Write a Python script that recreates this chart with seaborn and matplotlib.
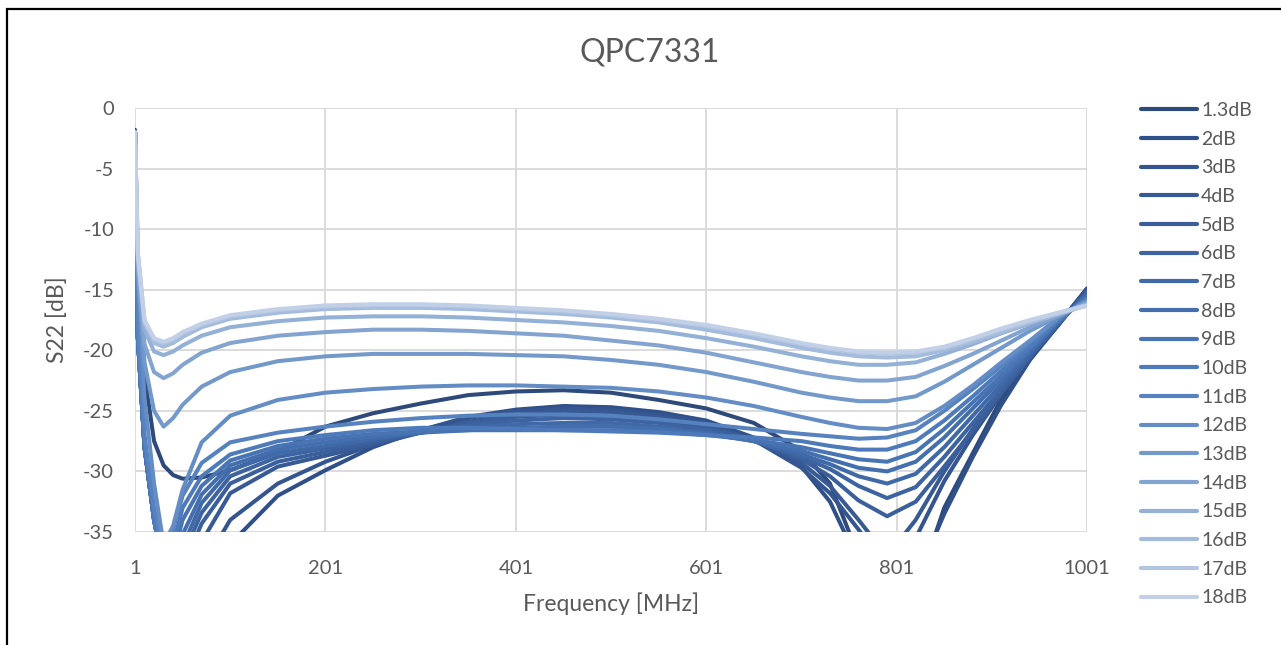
import matplotlib
matplotlib.use("Agg")
import matplotlib.pyplot as plt
import seaborn as sns
import pandas as pd
from matplotlib.patches import Rectangle

# ---------------- data ----------------
freq = [1, 4, 11, 21, 31, 41, 51, 71, 101, 151, 201, 251, 301, 351, 401, 451, 501,
        551, 601, 651, 701, 731, 761, 791, 821, 851, 881, 911, 941, 971, 1001]

labels = ["1.3dB", "2dB", "3dB", "4dB", "5dB", "6dB", "7dB", "8dB", "9dB", "10dB",
          "11dB", "12dB", "13dB", "14dB", "15dB", "16dB", "17dB", "18dB"]

s_1_3dB = [-1.8, -14.0, -22.0, -27.5, -29.5, -30.3, -30.6, -30.5, -29.9, -28.4, -26.3, -25.2, -24.4, -23.7, -23.4, -23.3, -23.5, -24.1, -24.8, -26.0, -28.3, -31.0, -37.0, -42.0, -40.0, -33.0, -28.5, -24.0, -20.5, -17.8, -14.9]
s_2dB = [-2.0, -19.0, -28.0, -34.0, -38.0, -40.0, -40.0, -39.0, -36.0, -32.0, -29.9, -28.0, -26.6, -25.5, -24.9, -24.6, -24.7, -25.1, -25.8, -27.2, -29.6, -32.5, -37.5, -41.0, -39.0, -33.5, -28.8, -24.5, -20.8, -17.9, -14.9]
s_3dB = [-2.0, -19.0, -28.0, -34.0, -38.0, -40.0, -40.0, -38.0, -34.0, -31.0, -29.2, -27.8, -26.6, -25.6, -25.0, -24.8, -24.9, -25.3, -26.0, -27.4, -29.7, -31.8, -34.8, -38.0, -35.5, -30.8, -27.0, -23.6, -20.5, -17.9, -15.0]
s_4dB = [-2.0, -19.0, -28.0, -34.0, -38.0, -40.0, -40.0, -35.8, -31.8, -29.6, -28.7, -27.8, -26.8, -25.9, -25.3, -25.0, -25.1, -25.5, -26.2, -27.4, -29.3, -31.2, -34.0, -37.0, -34.0, -30.0, -26.5, -23.2, -20.3, -17.8, -15.1]
s_5dB = [-2.0, -19.0, -28.0, -34.0, -38.0, -40.0, -38.0, -34.3, -31.0, -29.2, -28.4, -27.6, -26.8, -26.0, -25.5, -25.3, -25.4, -25.8, -26.4, -27.4, -29.0, -30.4, -32.4, -33.7, -32.5, -29.6, -26.6, -23.5, -20.6, -17.8, -15.2]
s_6dB = [-2.0, -19.0, -28.0, -34.0, -38.0, -40.0, -37.0, -33.4, -30.4, -28.8, -28.1, -27.4, -26.8, -26.2, -25.8, -25.6, -25.7, -26.0, -26.6, -27.5, -28.8, -29.8, -31.2, -32.2, -31.3, -28.8, -26.0, -23.2, -20.4, -17.7, -15.3]
s_7dB = [-2.0, -19.0, -28.0, -34.0, -38.0, -39.0, -36.2, -32.6, -29.9, -28.5, -27.9, -27.3, -26.8, -26.4, -26.1, -26.0, -26.0, -26.3, -26.8, -27.5, -28.6, -29.4, -30.4, -31.0, -30.2, -28.0, -25.4, -22.8, -20.2, -17.7, -15.4]
s_8dB = [-2.0, -19.0, -28.0, -34.0, -38.0, -38.0, -35.2, -31.9, -29.5, -28.2, -27.6, -27.1, -26.8, -26.6, -26.4, -26.3, -26.3, -26.5, -26.9, -27.5, -28.3, -29.0, -29.7, -30.0, -29.2, -27.2, -24.8, -22.4, -20.0, -17.6, -15.5]
s_9dB = [-2.0, -19.0, -28.0, -34.0, -38.0, -37.0, -34.0, -31.2, -29.1, -27.9, -27.3, -26.9, -26.7, -26.6, -26.6, -26.6, -26.6, -26.7, -27.0, -27.4, -28.0, -28.5, -29.0, -29.2, -28.4, -26.5, -24.3, -22.1, -19.9, -17.6, -15.6]
s_10dB = [-2.0, -19.0, -27.5, -34.0, -38.0, -36.0, -33.0, -30.4, -28.6, -27.5, -27.0, -26.6, -26.4, -26.4, -26.5, -26.6, -26.7, -26.8, -27.0, -27.2, -27.5, -27.9, -28.2, -28.2, -27.5, -25.8, -23.8, -21.7, -19.7, -17.5, -15.7]
s_11dB = [-2.0, -18.0, -27.0, -33.0, -37.0, -34.8, -32.0, -29.3, -27.6, -26.8, -26.3, -25.9, -25.6, -25.4, -25.3, -25.3, -25.4, -25.7, -26.1, -26.5, -26.9, -27.1, -27.3, -27.2, -26.6, -25.0, -23.2, -21.3, -19.4, -17.4, -15.8]
s_12dB = [-2.0, -14.0, -24.0, -31.0, -36.0, -34.5, -31.5, -27.6, -25.4, -24.1, -23.5, -23.2, -23.0, -22.9, -22.9, -23.0, -23.1, -23.4, -23.9, -24.6, -25.5, -26.0, -26.4, -26.5, -26.0, -24.6, -22.9, -21.0, -19.2, -17.3, -15.9]
s_13dB = [-2.0, -13.5, -21.0, -25.0, -26.3, -25.6, -24.5, -23.0, -21.8, -20.9, -20.5, -20.3, -20.3, -20.3, -20.4, -20.5, -20.8, -21.2, -21.8, -22.6, -23.5, -23.9, -24.2, -24.2, -23.8, -22.6, -21.2, -19.8, -18.4, -17.2, -16.0]
s_14dB = [-2.0, -13.0, -19.5, -21.8, -22.3, -21.9, -21.2, -20.2, -19.4, -18.8, -18.5, -18.3, -18.3, -18.4, -18.6, -18.8, -19.2, -19.6, -20.2, -21.0, -21.8, -22.2, -22.5, -22.5, -22.2, -21.3, -20.3, -19.2, -18.1, -17.1, -16.1]
s_15dB = [-2.0, -12.5, -18.3, -20.1, -20.4, -20.1, -19.6, -18.8, -18.1, -17.6, -17.3, -17.2, -17.2, -17.3, -17.5, -17.7, -18.0, -18.4, -19.0, -19.7, -20.5, -20.9, -21.2, -21.2, -21.0, -20.3, -19.5, -18.6, -17.8, -17.0, -16.2]
s_16dB = [-2.0, -12.2, -17.8, -19.4, -19.7, -19.4, -18.9, -18.1, -17.4, -16.9, -16.6, -16.5, -16.5, -16.6, -16.8, -17.0, -17.3, -17.7, -18.3, -19.0, -19.8, -20.2, -20.5, -20.6, -20.5, -20.0, -19.3, -18.5, -17.7, -17.0, -16.3]
s_17dB = [-2.0, -12.0, -17.6, -19.1, -19.4, -19.1, -18.6, -17.9, -17.2, -16.7, -16.4, -16.3, -16.3, -16.4, -16.6, -16.8, -17.1, -17.5, -18.0, -18.7, -19.5, -19.9, -20.2, -20.3, -20.2, -19.8, -19.1, -18.3, -17.6, -16.9, -16.3]
s_18dB = [-2.0, -12.0, -17.5, -19.0, -19.3, -19.0, -18.5, -17.8, -17.1, -16.6, -16.3, -16.2, -16.2, -16.3, -16.5, -16.7, -17.0, -17.4, -17.9, -18.6, -19.4, -19.8, -20.1, -20.2, -20.1, -19.7, -19.0, -18.2, -17.5, -16.9, -16.3]

series = [s_1_3dB, s_2dB, s_3dB, s_4dB, s_5dB, s_6dB, s_7dB, s_8dB, s_9dB, s_10dB,
          s_11dB, s_12dB, s_13dB, s_14dB, s_15dB, s_16dB, s_17dB, s_18dB]

colors = ["#2E4A7A", "#30508A", "#34558F", "#375A94", "#3A5F9B", "#3D64A1", "#4069A8",
          "#446FAE", "#4874B4", "#4D7ABA", "#5682BF", "#648DC5", "#7399CB", "#83A4D0",
          "#93B0D6", "#A3BBDC", "#B3C5E1", "#C2D0E7"]

rows = []
for lab, vals in zip(labels, series):
    for f, v in zip(freq, vals):
        rows.append({"Frequency": f, "S22": v, "Series": lab})
df = pd.DataFrame(rows)

# ---------------- plot ----------------
sns.set_theme(style="white")
plt.rcParams["font.family"] = ["Lato", "DejaVu Sans"]
plt.rcParams["axes.unicode_minus"] = False
text_color = "#595959"

fig = plt.figure(figsize=(12.81, 6.45), dpi=100)
ax = fig.add_axes([0.1054, 0.1752, 0.7432, 0.6574])

sns.lineplot(data=df, x="Frequency", y="S22", hue="Series", hue_order=labels,
             palette=colors, linewidth=2.9, sort=False, estimator=None, ax=ax,
             legend=True)

ax.set_xlim(1, 1001)
ax.set_ylim(-35, 0)
ax.set_xticks([1, 201, 401, 601, 801, 1001])
ax.set_yticks([0, -5, -10, -15, -20, -25, -30, -35])
ax.grid(True, color="#D9D9D9", linewidth=1.3)
ax.set_axisbelow(True)
for sp in ax.spines.values():
    sp.set_visible(False)
ax.tick_params(axis="x", length=0, labelsize=14.5, colors=text_color, pad=20)
ax.tick_params(axis="y", length=0, labelsize=14.5, colors=text_color, pad=15)
ax.set_xlabel("Frequency [MHz]", fontsize=16.5, color=text_color, labelpad=11)
ax.set_ylabel("S22 [dB]", fontsize=16.5, color=text_color, labelpad=11)
fig.text(650 / 1281, 1 - 52 / 645, "QPC7331", fontsize=23, color=text_color,
         ha="center", va="center")

handles, labs = ax.get_legend_handles_labels()
for h in handles:
    h.set_linewidth(3)
leg = ax.legend(handles, labs, loc="upper left", bbox_to_anchor=(1141 / 1281, 1 - 102 / 645),
                bbox_transform=fig.transFigure, frameon=False, fontsize=14,
                labelspacing=0.6, handlelength=2.9, handletextpad=0.2,
                borderaxespad=0, borderpad=0)
for t in leg.get_texts():
    t.set_color(text_color)

# outer chart border
fig.patches.append(Rectangle((7 / 1281, -0.2), 1.2, 1 - 9 / 645 + 0.2, transform=fig.transFigure,
                             fill=False, edgecolor="black", linewidth=1.6, clip_on=False))

fig.savefig("out.png", dpi=100)
